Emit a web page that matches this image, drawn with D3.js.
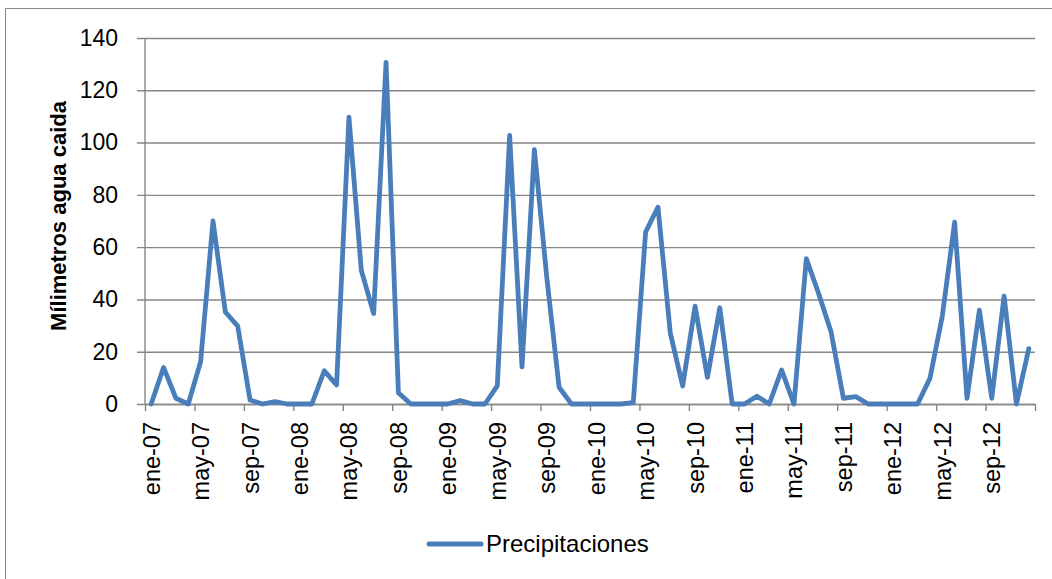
<!DOCTYPE html>
<html>
<head>
<meta charset="utf-8">
<script src="https://cdn.jsdelivr.net/npm/d3@7"></script>
<style>
  html, body { margin: 0; padding: 0; background: #fff; }
  svg { display: block; font-family: "Liberation Sans", Arial, sans-serif; }
</style>
</head>
<body>
<svg id="chart" width="1052" height="579"></svg>
<script>
// Monthly rainfall, January 2007 – December 2012 (mm)
const monthNames = ["ene","feb","mar","abr","may","jun","jul","ago","sep","oct","nov","dic"];
const years = ["07","08","09","10","11","12"];
const rain2007 = [0, 14, 2.2, 0, 16.2, 70, 35.2, 29.8, 1.5, 0, 0.9, 0];
const rain2008 = [0, 0, 12.7, 7.3, 109.7, 51.1, 34.6, 130.7, 4.3, 0, 0, 0];
const rain2009 = [0, 1.3, 0, 0, 6.9, 102.7, 14.2, 97.3, 48.6, 6.4, 0, 0];
const rain2010 = [0, 0, 0, 0.5, 65.8, 75.3, 27, 6.9, 37.4, 10.2, 36.8, 0];
const rain2011 = [0, 3, 0, 13, 0, 55.6, 42.2, 27.6, 2.2, 2.8, 0, 0];
const rain2012 = [0, 0, 0, 9.8, 33.6, 69.6, 2.2, 35.9, 2.2, 41.3, 0, 21.2];
const yTicks = [0, 20, 40, 60, 80, 100, 120, 140];
const seriesName = "Precipitaciones";
const yTitle = "Mílimetros agua caida";

const values = [].concat(rain2007, rain2008, rain2009, rain2010, rain2011, rain2012);
const labels = [];
years.forEach(y => monthNames.forEach(m => labels.push(m + "-" + y)));
const data = values.map((v, i) => ({ i, label: labels[i], v }));

const svg = d3.select("#chart");
const gridColor = "#868686";
const lineColor = "#4a7ebb";
const plotLeft = 145, plotRight = 1035, plotTop = 38, plotBottom = 404;

// outer chart frame
svg.append("path")
  .attr("d", `M5.5,579 V8.5 H1052`)
  .attr("fill", "none").attr("stroke", gridColor).attr("stroke-width", 1);

const x = d3.scaleLinear().domain([0, values.length]).range([plotLeft, plotRight]);
const y = d3.scaleLinear().domain([0, 140]).range([plotBottom, plotTop]);

// horizontal gridlines with outward tick stubs
const yAxis = svg.append("g")
  .attr("transform", `translate(${plotLeft},0)`)
  .call(d3.axisLeft(y).tickValues(yTicks).tickSizeInner(-(plotRight - plotLeft)).tickSizeOuter(0).tickPadding(0).tickFormat(""));
yAxis.select(".domain").remove();
yAxis.selectAll(".tick line")
  .attr("x1", -8).attr("stroke", gridColor).attr("stroke-width", 1.4);

// y tick labels
svg.append("g").selectAll("text").data(yTicks).join("text")
  .attr("x", 118).attr("y", d => y(d)).attr("dy", "0.34em")
  .attr("text-anchor", "end").attr("font-size", 23).attr("fill", "#000")
  .text(d => d);

// vertical axis line
svg.append("line")
  .attr("x1", plotLeft).attr("x2", plotLeft).attr("y1", plotTop).attr("y2", plotBottom)
  .attr("stroke", gridColor).attr("stroke-width", 1.4);

// category axis: ticks every four months at month boundaries
const tickIdx = d3.range(0, values.length + 1, 4);
const xAxis = svg.append("g")
  .attr("transform", `translate(0,${plotBottom})`)
  .call(d3.axisBottom(x).tickValues(tickIdx).tickSizeInner(7).tickSizeOuter(0).tickFormat(""));
xAxis.select(".domain").attr("stroke", gridColor).attr("stroke-width", 1.4);
xAxis.selectAll(".tick line").attr("stroke", gridColor).attr("stroke-width", 1.4);

// rotated month labels, centred on their month
const labelIdx = d3.range(0, values.length, 4);
svg.append("g").selectAll("text").data(labelIdx).join("text")
  .attr("transform", i => `translate(${x(i + 0.5)},422) rotate(-90)`)
  .attr("dy", "0.36em")
  .attr("text-anchor", "end").attr("font-size", 23.5).attr("fill", "#000")
  .text(i => labels[i]);

// axis title
svg.append("text")
  .attr("transform", `translate(66,216) rotate(-90)`)
  .attr("text-anchor", "middle").attr("font-size", 22).attr("font-weight", "bold")
  .attr("fill", "#000")
  .text(yTitle);

// rainfall line
const line = d3.line().x(d => x(d.i + 0.5)).y(d => y(d.v));
svg.append("path")
  .datum(data)
  .attr("d", line)
  .attr("fill", "none").attr("stroke", lineColor).attr("stroke-width", 4.8)
  .attr("stroke-linejoin", "round").attr("stroke-linecap", "round");

// legend
const legend = svg.append("g");
legend.append("line")
  .attr("x1", 429).attr("x2", 481).attr("y1", 544).attr("y2", 544)
  .attr("stroke", lineColor).attr("stroke-width", 5).attr("stroke-linecap", "round");
legend.append("text")
  .attr("x", 486).attr("y", 552).attr("font-size", 24).attr("fill", "#000")
  .text(seriesName);
</script>
</body>
</html>
